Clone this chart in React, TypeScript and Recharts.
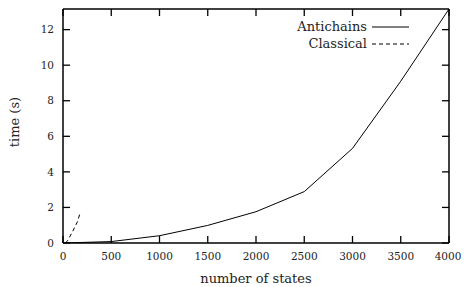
import React from 'react';
import { LineChart, Line, XAxis, YAxis, ReferenceLine } from 'recharts';

const antichainStates = [0, 500, 1000, 1500, 2000, 2500, 3000, 3500, 4000];
const antichainTimes = [0, 0.08, 0.41, 0.99, 1.76, 2.89, 5.32, 9.1, 13.16];
const classicalStates = [25, 50, 100, 150, 175];
const classicalTimes = [0, 0.15, 0.65, 1.2, 1.65];
const xTicks = [0, 500, 1000, 1500, 2000, 2500, 3000, 3500, 4000];
const yTicks = [0, 2, 4, 6, 8, 10, 12];
const seriesNames = ['Antichains', 'Classical'];

const antichains = antichainStates.map((x, i) => ({ x, y: antichainTimes[i] }));
const classical = classicalStates.map((x, i) => ({ x, y: classicalTimes[i] }));

const X_MAX = 4000;
const Y_MAX = 13.16;
const W = 464;
const H = 287;
const M = { top: 8, right: 14, left: 0, bottom: 0 };
const Y_AXIS_W = 63;
const X_AXIS_H = 44;
const PLOT_W = W - M.left - M.right - Y_AXIS_W - 1;
const PLOT_H = H - M.top - M.bottom - X_AXIS_H - 1;
const TICK_PX = 7;
const tickDX = (TICK_PX * X_MAX) / PLOT_W; // tick length in data units
const tickDY = (TICK_PX * Y_MAX) / PLOT_H;

const FONT = '"DejaVu Serif", serif';
const INK = '#222';

const BottomTick = ({ x, y, payload }: any) => (
    <text x={x} y={y} dy="0.355em" textAnchor="middle" fontFamily={FONT} fontSize={10.5} fill={INK}>{payload.value}</text>
);
const LeftTick = ({ x, y, payload }: any) => (
    <text x={x} y={y} dy="0.355em" textAnchor="end" fontFamily={FONT} fontSize={10.5} fill={INK}>{payload.value}</text>
);
const NoTick = () => <g />;

const frame = { stroke: '#000', strokeWidth: 1.5 };
const mark = { stroke: '#000', strokeWidth: 1.3, ifOverflow: 'visible' as const, xAxisId: 'main', yAxisId: 'main' };

export default function App() {
    return (
        <div style={{ position: 'absolute', left: 0, top: 0, width: W, height: H, background: '#fff', fontFamily: FONT }}>
            <LineChart width={W} height={H} margin={M} style={{ fontFamily: FONT }}>
                <XAxis xAxisId="main" type="number" dataKey="x" domain={[0, X_MAX]} ticks={xTicks} allowDataOverflow
                    tickSize={0} tickMargin={13} tickLine={false} axisLine={frame} height={X_AXIS_H} tick={<BottomTick />}
                    label={{ value: 'number of states', position: 'insideBottom', offset: 4, style: { fontFamily: FONT, fontSize: 13, fill: INK } }} />
                <XAxis xAxisId="top" type="number" dataKey="x" domain={[0, X_MAX]} ticks={xTicks} allowDataOverflow
                    orientation="top" height={1} tickSize={0} tickMargin={0} tickLine={false} axisLine={frame} tick={<NoTick />} />
                <YAxis yAxisId="main" type="number" dataKey="y" domain={[0, Y_MAX]} ticks={yTicks} allowDataOverflow
                    tickSize={0} tickMargin={9} tickLine={false} axisLine={frame} width={Y_AXIS_W} tick={<LeftTick />}
                    label={{ value: 'time (s)', angle: -90, position: 'insideLeft', offset: 14, dy: -4, style: { fontFamily: FONT, fontSize: 13, fill: INK, textAnchor: 'middle' } }} />
                <YAxis yAxisId="right" type="number" dataKey="y" domain={[0, Y_MAX]} ticks={yTicks} allowDataOverflow
                    orientation="right" width={1} tickSize={0} tickMargin={0} tickLine={false} axisLine={frame} tick={<NoTick />} />
                {xTicks.map((t) => (
                    <ReferenceLine key={`b${t}`} {...mark} segment={[{ x: t, y: 0 }, { x: t, y: tickDY }]} />
                ))}
                {xTicks.map((t) => (
                    <ReferenceLine key={`t${t}`} {...mark} segment={[{ x: t, y: Y_MAX }, { x: t, y: Y_MAX - tickDY }]} />
                ))}
                {yTicks.map((t) => (
                    <ReferenceLine key={`l${t}`} {...mark} segment={[{ x: 0, y: t }, { x: tickDX, y: t }]} />
                ))}
                {yTicks.map((t) => (
                    <ReferenceLine key={`r${t}`} {...mark} segment={[{ x: X_MAX, y: t }, { x: X_MAX - tickDX, y: t }]} />
                ))}
                <Line xAxisId="main" yAxisId="main" data={antichains} dataKey="y" name={seriesNames[0]} type="linear"
                    stroke="#000" strokeWidth={1} dot={false} isAnimationActive={false} />
                <Line xAxisId="top" yAxisId="right" data={classical} dataKey="y" name={seriesNames[1]} type="linear"
                    stroke="#000" strokeWidth={1} strokeDasharray="4 3" dot={false} isAnimationActive={false} />
            </LineChart>
            <div style={{ position: 'absolute', right: 54, top: 18, fontSize: 13, color: INK }}>
                {seriesNames.map((name, i) => (
                    <div key={name} style={{ display: 'flex', alignItems: 'center', justifyContent: 'flex-end', height: 17 }}>
                        <span>{name}</span>
                        <svg width={38} height={10} style={{ marginLeft: 5 }}>
                            <line x1={0} y1={5} x2={37} y2={5} stroke="#000" strokeWidth={1} strokeDasharray={i === 1 ? '4 3' : undefined} />
                        </svg>
                    </div>
                ))}
            </div>
        </div>
    );
}
